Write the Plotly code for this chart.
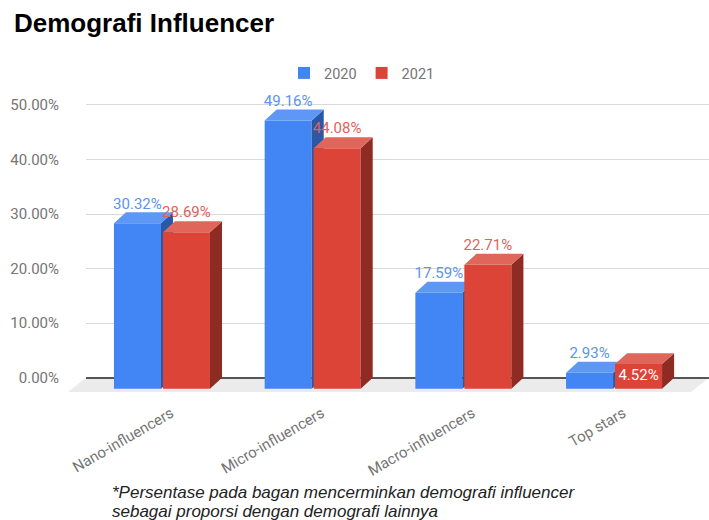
import plotly.graph_objects as go

# ---------------- data ----------------
categories = ["Nano-influencers", "Micro-influencers", "Macro-influencers", "Top stars"]
series_names = ["2020", "2021"]
values_2020 = [30.32, 49.16, 17.59, 2.93]
values_2021 = [28.69, 44.08, 22.71, 4.52]
y_ticks = [0, 10, 20, 30, 40, 50]
footnote_lines = ["*Persentase pada bagan mencerminkan demografi influencer",
                  "sebagai proporsi dengan demografi lainnya"]

# ---------------- style / geometry ----------------
W, H = 709, 520
M_L, M_R, M_T, M_B = 86, 0, 94, 128
Y_MIN, Y_MAX = -2.6, 52.0
X_MIN, X_MAX = -0.504, 3.63
BAR_W = 0.312          # bar width in category units
GAP = 0.013            # gap between the two bars of a group
DEPTH_X = 0.08         # 3D depth, x (category units)
DEPTH_Y = 2.0          # 3D depth, y (percent units)
TICK_SHIFT = 0.06      # x tick label anchor shift

front = ["#4285F4", "#DB4437"]
top_c = ["#5f97f6", "#e0665b"]
side_c = ["#2a57a6", "#8e2b23"]
label_c = ["#5b93ee", "#e0625a"]
INSIDE_LABELS = {("2021", "Top stars")}

series_vals = [values_2020, values_2021]
offsets = [-GAP / 2 - BAR_W, GAP / 2]
xpos = list(range(len(categories)))

fig = go.Figure()
axes = [("x", "y"), ("x2", "y2")]

for s, (name, vals) in enumerate(zip(series_names, series_vals)):
    xa, ya = axes[s]
    off = offsets[s]
    # front faces as real bars
    fig.add_trace(go.Bar(
        x=xpos, y=vals, base=-DEPTH_Y, width=BAR_W, offset=off,
        marker=dict(color=front[s], line=dict(width=0)),
        name=name, xaxis=xa, yaxis=ya, hoverinfo="skip",
    ))
    # top and side faces derived from the values
    tx, ty, sx, sy = [], [], [], []
    for i, v in enumerate(vals):
        xl = i + off
        xr = xl + BAR_W
        tx += [xl, xr, xr + DEPTH_X, xl + DEPTH_X, xl, None]
        ty += [v - DEPTH_Y, v - DEPTH_Y, v, v, v - DEPTH_Y, None]
        sx += [xr, xr + DEPTH_X, xr + DEPTH_X, xr, xr, None]
        sy += [-DEPTH_Y, 0, v, v - DEPTH_Y, -DEPTH_Y, None]
    fig.add_trace(go.Scatter(x=sx, y=sy, mode="lines", fill="toself",
                             fillcolor=side_c[s], line=dict(width=0),
                             showlegend=False, hoverinfo="skip",
                             xaxis=xa, yaxis=ya))
    fig.add_trace(go.Scatter(x=tx, y=ty, mode="lines", fill="toself",
                             fillcolor=top_c[s], line=dict(width=0),
                             showlegend=False, hoverinfo="skip",
                             xaxis=xa, yaxis=ya))

# data labels (on the top-most subplot)
for s, (name, vals) in enumerate(zip(series_names, series_vals)):
    cx = [i + offsets[s] + BAR_W / 2 for i in xpos]
    out_x, out_y, out_t, in_x, in_y, in_t = [], [], [], [], [], []
    for i, v in enumerate(vals):
        txt = f"{v:.2f}%"
        if (name, categories[i]) in INSIDE_LABELS:
            in_x.append(cx[i]); in_y.append(v / 2 - DEPTH_Y); in_t.append(txt)
        else:
            out_x.append(cx[i]); out_y.append(v); out_t.append(txt)
    fig.add_trace(go.Scatter(x=out_x, y=out_y, text=out_t, mode="text",
                             textposition="top center",
                             textfont=dict(family="Roboto", size=15, color=label_c[s]),
                             showlegend=False, hoverinfo="skip",
                             xaxis="x2", yaxis="y2", cliponaxis=False))
    if in_x:
        fig.add_trace(go.Scatter(x=in_x, y=in_y, text=in_t, mode="text",
                                 textposition="middle center",
                                 textfont=dict(family="Roboto", size=15, color="white"),
                                 showlegend=False, hoverinfo="skip",
                                 xaxis="x2", yaxis="y2", cliponaxis=False))

# floor (3D base plane)
pw = W - M_L - M_R
ph = H - M_T - M_B
y0p = (0 - Y_MIN) / (Y_MAX - Y_MIN)
shift = 18 / pw
fig.add_shape(type="path", xref="paper", yref="paper", layer="below",
              path=f"M 0 {y0p} L 1 {y0p} L {1 - shift} 0 L {-shift} 0 Z",
              fillcolor="#ebebeb", line=dict(width=0))

tick_font = dict(family="Roboto", size=15, color="#757575")
fig.update_layout(
    width=W, height=H,
    margin=dict(l=M_L, r=M_R, t=M_T, b=M_B),
    paper_bgcolor="white", plot_bgcolor="white",
    barmode="overlay",
    title=dict(text="<b>Demografi Influencer</b>", x=14 / W, xanchor="left",
               y=1 - 23 / H, yanchor="middle", xref="container", yref="container",
               font=dict(family="Liberation Sans, Arial", size=26, color="black")),
    legend=dict(orientation="h", x=(362 - M_L) / pw, xanchor="center",
                y=1 + (M_T - 73) / ph, yanchor="middle",
                font=dict(family="Roboto", size=14.5, color="#757575"),
                itemclick=False, bgcolor="rgba(0,0,0,0)"),
    xaxis=dict(range=[X_MIN, X_MAX], tickmode="array",
               tickvals=[i + TICK_SHIFT for i in xpos], ticktext=categories,
               tickangle=-30, tickfont=tick_font, showgrid=False,
               zeroline=False, showline=False, ticks="", ticklabelstandoff=9),
    yaxis=dict(range=[Y_MIN, Y_MAX], tickmode="array", tickvals=y_ticks,
               ticktext=[f"{t:.2f}%" for t in y_ticks], tickfont=tick_font,
               showgrid=True, gridcolor="#d9d9d9", gridwidth=1,
               zeroline=True, zerolinecolor="#555555", zerolinewidth=1.5,
               showline=False, ticks="", ticklabelstandoff=26),
    xaxis2=dict(range=[X_MIN, X_MAX], overlaying="x", visible=False),
    yaxis2=dict(range=[Y_MIN, Y_MAX], overlaying="y", visible=False),
    showlegend=True,
)

# footnote, one annotation per line (tighter line spacing than <br>)
for k, line in enumerate(footnote_lines):
    y_px = 492 + 19 * k
    fig.add_annotation(
        xref="paper", yref="paper", x=(110 - M_L) / pw, xanchor="left",
        y=-(y_px - (H - M_B)) / ph, yanchor="middle", align="left",
        showarrow=False, text=f"<i>{line}</i>",
        font=dict(family="Liberation Sans, Arial", size=17, color="#222222"),
    )

fig.write_html("out.html",
               config={"displayModeBar": False},
               post_script="document.body.style.margin='0px';"
                           "document.body.style.padding='0px';")
